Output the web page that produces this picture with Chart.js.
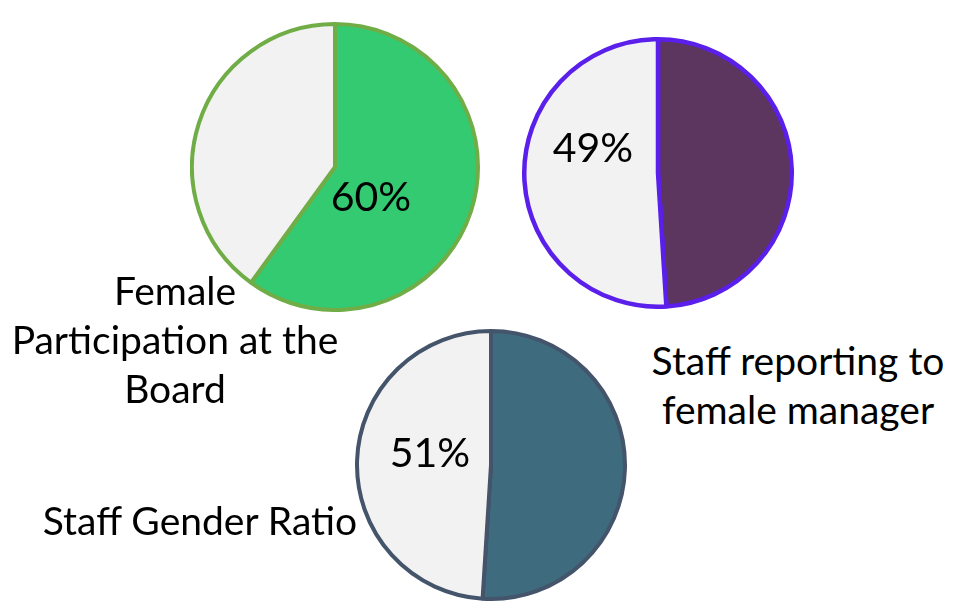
<!DOCTYPE html>
<html>
<head>
<meta charset="utf-8">
<script src="https://cdn.jsdelivr.net/npm/chart.js@4/dist/chart.umd.min.js"></script>
<style>
  html, body { margin: 0; padding: 0; background: #ffffff; }
  #stage { position: relative; width: 955px; height: 605px; overflow: hidden; font-family: "Lato", "Open Sans", sans-serif; color: #000; }
  canvas { position: absolute; }
  .lbl { position: absolute; font-size: 39px; line-height: 49px; text-align: center; white-space: nowrap; transform: translate(-50%, -50%); }
  .pct { position: absolute; font-size: 41px; line-height: 1; white-space: nowrap; transform: translate(-50%, -50%); }
</style>
</head>
<body>
<div id="stage">
  <canvas id="c0"></canvas>
  <canvas id="c1"></canvas>
  <canvas id="c2"></canvas>
</div>
<script>
// ---- data ----
const categories = ['Female Participation at the Board', 'Staff reporting to female manager', 'Staff Gender Ratio'];
const femaleShare = [60, 49, 51];
const otherShare = [40, 51, 49];
const percentLabels = ['60%', '49%', '51%'];
const labelLines = [['Female', 'Participation at the', 'Board'], ['Staff reporting to', 'female manager'], ['Staff Gender Ratio']];

// ---- styles / layout ----
const fillColors = ['#33CA71', '#5C365E', '#3E6B7E'];
const restColor = '#F2F2F2';
const borderColors = ['#70AD47', '#5A1FEA', '#44546A'];
const borderWidths = [4, 4.5, 4];
const pieBoxes = [
  { left: 190, top: 22, size: 290 },
  { left: 522, top: 37, size: 272 },
  { left: 355, top: 329, size: 272 }
];
const pctPos = [[371, 195], [593, 146], [430, 451]];
const labelPos = [[175, 339], [798, 385], [200, 520]];

const stage = document.getElementById('stage');

categories.forEach((cat, i) => {
  const cv = document.getElementById('c' + i);
  const b = pieBoxes[i];
  cv.width = b.size; cv.height = b.size;
  cv.style.left = b.left + 'px'; cv.style.top = b.top + 'px';
  cv.style.width = b.size + 'px'; cv.style.height = b.size + 'px';
  new Chart(cv, {
    type: 'pie',
    data: {
      labels: ['Female', 'Other'],
      datasets: [{
        data: [femaleShare[i], otherShare[i]],
        backgroundColor: [fillColors[i], restColor],
        borderColor: borderColors[i],
        borderWidth: borderWidths[i],
        hoverOffset: 0
      }]
    },
    options: {
      responsive: false,
      animation: false,
      devicePixelRatio: 1,
      layout: { padding: 0 },
      plugins: { legend: { display: false }, tooltip: { enabled: false }, title: { display: false } },
      events: []
    }
  });

  const p = document.createElement('div');
  p.className = 'pct';
  p.textContent = percentLabels[i];
  p.style.left = pctPos[i][0] + 'px';
  p.style.top = pctPos[i][1] + 'px';
  stage.appendChild(p);

  const l = document.createElement('div');
  l.className = 'lbl';
  l.innerHTML = labelLines[i].map(s => s.replace(/&/g, '&amp;')).join('<br>');
  l.style.left = labelPos[i][0] + 'px';
  l.style.top = labelPos[i][1] + 'px';
  stage.appendChild(l);
});
</script>
</body>
</html>
